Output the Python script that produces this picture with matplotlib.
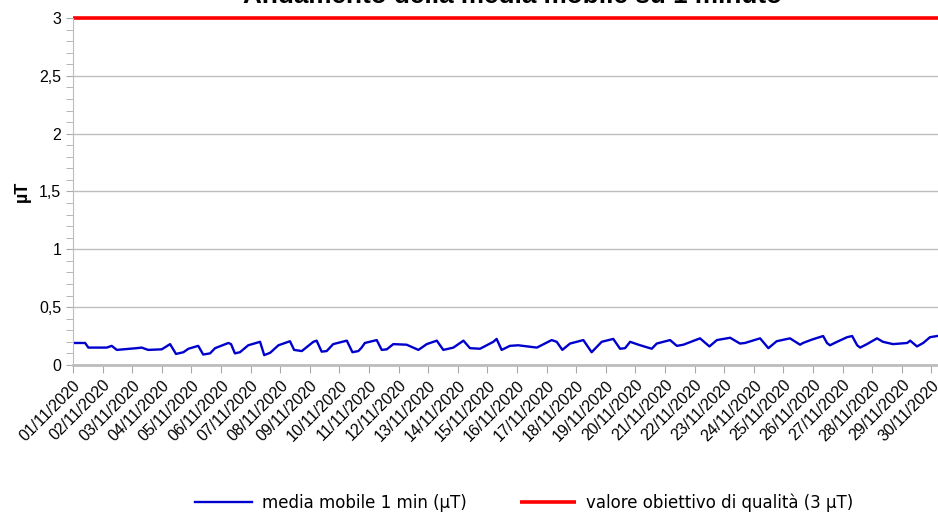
import datetime as dt
import matplotlib
matplotlib.use("Agg")
import matplotlib.pyplot as plt
import matplotlib.dates as mdates
from matplotlib.ticker import FixedLocator, MultipleLocator, FuncFormatter

# time in days from 01/11/2020 00:00, values in uT
day_offset = [
    0.00, 0.41, 0.52, 1.14, 1.31, 1.48, 2.15, 2.32, 2.54, 3.00,
    3.28, 3.48, 3.73, 3.90, 4.23, 4.40, 4.63, 4.80, 5.25, 5.34,
    5.47, 5.64, 5.92, 6.32, 6.46, 6.66, 6.94, 7.33, 7.47, 7.73,
    8.12, 8.23, 8.40, 8.57, 8.79, 9.25, 9.44, 9.64, 9.75, 9.86,
    10.26, 10.43, 10.60, 10.82, 11.27, 11.67, 11.95, 12.29, 12.51, 12.85,
    13.19, 13.41, 13.75, 14.20, 14.31, 14.48, 14.76, 15.04, 15.67, 16.17,
    16.34, 16.53, 16.79, 17.24, 17.52, 17.86, 18.25, 18.48, 18.65, 18.82,
    19.10, 19.55, 19.72, 20.17, 20.40, 20.62, 21.18, 21.50, 21.75, 22.20,
    22.53, 22.70, 23.21, 23.49, 23.77, 24.22, 24.56, 24.66, 24.97, 25.34,
    25.47, 25.57, 25.81, 26.15, 26.32, 26.49, 26.59, 26.82, 27.16, 27.36,
    27.70, 28.18, 28.28, 28.51, 28.72, 28.95, 29.19,
]
media_mobile = [
    0.19, 0.19, 0.15, 0.15, 0.165, 0.13, 0.145, 0.15, 0.13, 0.135,
    0.18, 0.095, 0.11, 0.14, 0.165, 0.09, 0.10, 0.145, 0.19, 0.18,
    0.10, 0.11, 0.17, 0.20, 0.085, 0.105, 0.17, 0.205, 0.13, 0.12,
    0.20, 0.21, 0.115, 0.12, 0.18, 0.21, 0.11, 0.12, 0.15, 0.19,
    0.215, 0.13, 0.135, 0.18, 0.175, 0.13, 0.18, 0.21, 0.13, 0.15,
    0.21, 0.145, 0.14, 0.20, 0.225, 0.13, 0.165, 0.17, 0.15, 0.215,
    0.20, 0.13, 0.185, 0.215, 0.11, 0.20, 0.225, 0.14, 0.145, 0.20,
    0.175, 0.14, 0.185, 0.215, 0.165, 0.175, 0.23, 0.16, 0.215, 0.235,
    0.185, 0.19, 0.23, 0.145, 0.205, 0.23, 0.175, 0.19, 0.22, 0.25,
    0.19, 0.17, 0.20, 0.24, 0.25, 0.17, 0.15, 0.18, 0.23, 0.20,
    0.18, 0.19, 0.21, 0.16, 0.19, 0.24, 0.25,
]
obiettivo = 3.0
n_days = 30
x_end = 29.22  # the chart stops early on 30/11

start = dt.datetime(2020, 11, 1)
t0 = mdates.date2num(start)
x = [t0 + d for d in day_offset]
tick_days = [t0 + i for i in range(n_days)]
tick_labels = [(start + dt.timedelta(days=i)).strftime("%d/%m/%Y") for i in range(n_days)]

plt.rcParams["font.family"] = ["Liberation Sans", "DejaVu Sans"]

fig = plt.figure(figsize=(9.38, 5.14), dpi=100)
ax = fig.add_axes([0.0778, 0.29, 1 - 0.0778, 0.675])

ax.plot(x, media_mobile, color="#0000CC", lw=1.7, label="media mobile 1 min (µT)")
ax.plot([t0, t0 + x_end], [obiettivo, obiettivo], color="#FF0000", lw=2.6,
        clip_on=False, solid_capstyle="butt", label="valore obiettivo di qualità (3 µT)")

ax.set_xlim(t0, t0 + x_end)
ax.set_ylim(0, 3)

ax.yaxis.set_major_locator(MultipleLocator(0.5))
ax.yaxis.set_minor_locator(MultipleLocator(0.1))
ax.yaxis.set_major_formatter(FuncFormatter(lambda v, p: f"{v:g}".replace(".", ",")))
ax.xaxis.set_major_locator(FixedLocator(tick_days))
ax.set_xticklabels(tick_labels, rotation=45, ha="right", rotation_mode="anchor")

ax.grid(axis="y", color="#BDBDBD", lw=1)
ax.set_axisbelow(True)
for s in ["top", "right"]:
    ax.spines[s].set_visible(False)
ax.spines["left"].set_color("#BDBDBD")
ax.spines["bottom"].set_color("#BDBDBD")
ax.spines["bottom"].set_linewidth(2)
ax.tick_params(axis="y", which="both", colors="#AAAAAA", labelcolor="black",
               labelsize=11.5, length=5)
ax.tick_params(axis="x", colors="#AAAAAA", labelcolor="black", labelsize=11.5,
               length=6, pad=3)

ax.set_ylabel("µT", fontsize=13, fontweight="bold", labelpad=6)

# title is partly cut by the top edge, as in the original
fig.text(0.546, 0.995, "Andamento della media mobile su 1 minuto", ha="center",
         va="baseline", fontsize=18.8, fontweight="bold")

fig.legend(loc="center", bbox_to_anchor=(0.559, 0.0214), ncol=2, frameon=False,
           prop={"family": "DejaVu Sans", "size": 12}, handlelength=3.4,
           columnspacing=3.2, handletextpad=0.6)

fig.savefig("out.png", dpi=100)
